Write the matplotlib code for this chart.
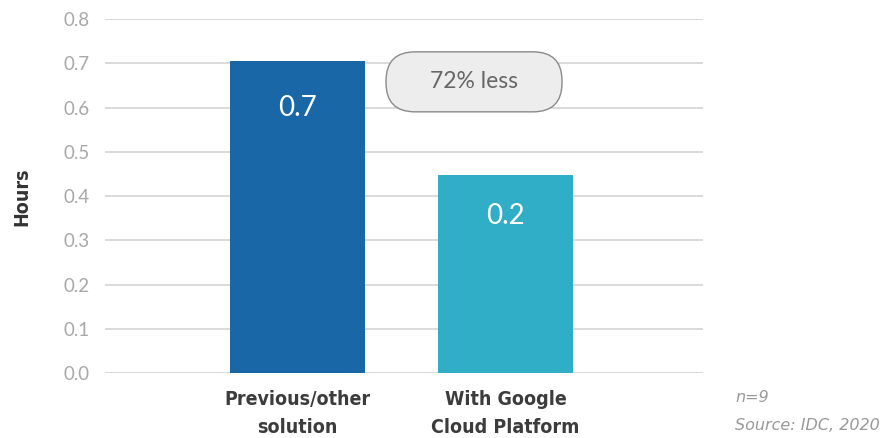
import matplotlib
matplotlib.use("Agg")
import matplotlib.pyplot as plt
from matplotlib.patches import FancyBboxPatch
from matplotlib.transforms import IdentityTransform
from matplotlib import font_manager

# data
categories = ["Previous/other\nsolution", "With Google\nCloud Platform"]
bar_heights = [0.705, 0.447]   # heights as drawn
bar_labels = ["0.7", "0.2"]    # labels as printed on the bars
label_y = [0.60, 0.355]
yticks = [0.0, 0.1, 0.2, 0.3, 0.4, 0.5, 0.6, 0.7, 0.8]
colors = ["#1a67a8", "#31aec7"]
note_text = "72% less"

names = {f.name for f in font_manager.fontManager.ttflist}
light = "Lato" if "Lato" in names else "DejaVu Sans"
cond = dict(family="DejaVu Sans", fontstretch="condensed", fontweight="bold")

fig = plt.figure(figsize=(8.87, 4.38), dpi=100)
ax = fig.add_axes([0.1184, 0.1484, 0.6742, 0.8082])

x = range(len(categories))
ax.bar(x, bar_heights, width=0.65, color=colors, zorder=3)
for i in x:
    ax.text(i, label_y[i], bar_labels[i], ha="center", va="center",
            color="white", fontsize=20, family=light, zorder=4)

ax.set_xlim(-0.925, 1.95)
ax.set_ylim(0, 0.8)
ax.set_yticks(yticks)
ax.set_yticklabels([f"{t:.1f}" for t in yticks], family=light, fontsize=13.5, color="#a8a8a8")
ax.set_xticks(list(x))
ax.set_xticklabels(categories, fontsize=14, color="#3c3c3c", linespacing=1.6, **cond)
ax.tick_params(axis="y", length=0, pad=11)
ax.tick_params(axis="x", length=0, pad=12)
ax.grid(axis="y", color="#d4d4d4", linewidth=1.2, zorder=0)
for s in ax.spines.values():
    s.set_visible(False)

fig.text(22 / 887, 1 - 197 / 438, "Hours", rotation=90, ha="center", va="center",
         fontsize=14, color="#333333", **cond)

# pill shaped callout
fig.canvas.draw()
cx, cy = ax.transData.transform((0.849, 0.658))
w, h = 176, 60
pill = FancyBboxPatch((cx - w / 2, cy - h / 2), w, h,
                      boxstyle="round,pad=0,rounding_size=29",
                      transform=IdentityTransform(), facecolor="#ededee",
                      edgecolor="#8a8a8a", linewidth=1.0, zorder=5, clip_on=False)
ax.add_patch(pill)
ax.text(0.849, 0.658, note_text, ha="center", va="center", fontsize=16.5,
        family=light, color="#666666", zorder=6)

fig.text(735 / 887, 1 - 398 / 438, "n=9", ha="left", va="center", style="italic",
         fontsize=11.5, color="#999999")
fig.text(735 / 887, 1 - 426 / 438, "Source: IDC, 2020", ha="left", va="center",
         style="italic", fontsize=11.5, color="#999999")

fig.savefig("out.png", dpi=100)
